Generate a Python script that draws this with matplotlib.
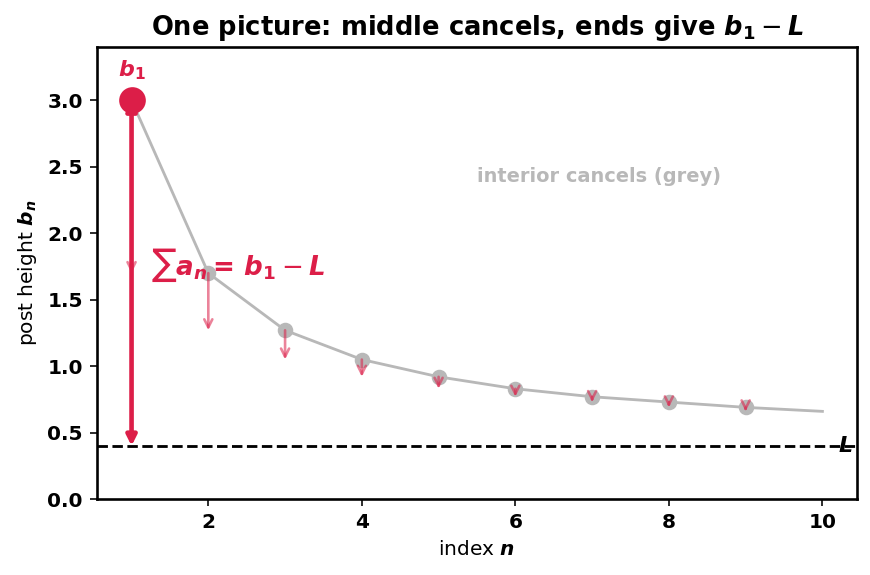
import numpy as np
import matplotlib.pyplot as plt

# post heights b_n and limit L
n_vals = [1, 2, 3, 4, 5, 6, 7, 8, 9, 10]
b_vals = [3.0, 1.7, 1.27, 1.05, 0.92, 0.83, 0.77, 0.73, 0.69, 0.66]
L_val = 0.4

red = '#dc1e48'
grey = '#b8b8b8'

b1 = r'\mathbfit{b}_{\mathbf{1}}'
fig = plt.figure(figsize=(6, 575 / 145), dpi=145)
ax = fig.add_axes([0.1115, 0.132, 0.8735, 0.786])

# grey curve + interior posts
ax.plot(n_vals, b_vals, color=grey, lw=1.4, zorder=2)
ax.scatter(n_vals[1:-1], b_vals[1:-1], s=45, color=grey, zorder=3)

# small drops a_n = b_n - b_{n+1}
for i in range(len(n_vals) - 1):
    ax.annotate('', xy=(n_vals[i], b_vals[i + 1]), xytext=(n_vals[i], b_vals[i]),
                arrowprops=dict(arrowstyle='->', color=red, alpha=0.55, lw=1.3,
                                shrinkA=0, shrinkB=0, mutation_scale=10),
                zorder=4)

# limit line
ax.axhline(L_val, color='black', ls='--', lw=1.4, zorder=1)
ax.text(10.2, L_val, r'$\mathbfit{L}$', fontsize=11, va='center', ha='left')

# total drop b_1 - L
ax.annotate('', xy=(n_vals[0], L_val), xytext=(n_vals[0], b_vals[0]),
            arrowprops=dict(arrowstyle='<|-|>', color=red, lw=2.3,
                            shrinkA=0, shrinkB=0, mutation_scale=10),
            zorder=5)
ax.scatter([n_vals[0]], [b_vals[0]], s=150, color=red, zorder=6)
ax.text(n_vals[0], 3.23, '$' + b1 + '$', color=red, fontsize=11,
        ha='center', va='center')
ax.text(1.25, 1.76, r'$\sum\mathbfit{a}_{\mathbfit{n}}\mathbf{=}\,' + b1 + r' - \mathbfit{L}$',
        color=red, fontsize=13, ha='left', va='center', zorder=7)

ax.text(5.5, 2.43, 'interior cancels (grey)', color=grey, fontsize=9.6,
        fontweight='bold', ha='left', va='center')

ax.set_xlim(0.55, 10.45)
ax.set_ylim(0, 3.4)
ax.set_xticks([2, 4, 6, 8, 10])
ax.set_yticks(np.arange(0, 3.01, 0.5))
for lbl in ax.get_xticklabels() + ax.get_yticklabels():
    lbl.set_fontweight('bold')
ax.tick_params(labelsize=10)
for s in ax.spines.values():
    s.set_linewidth(1.3)

ax.set_xlabel(r'index $\mathbfit{n}$', fontsize=10)
ax.set_ylabel(r'post height $\mathbfit{b}_{\mathbfit{n}}$', fontsize=10)
ax.set_title('One picture: middle cancels, ends give $' + b1 + r' - \mathbfit{L}$',
             fontsize=12.8, fontweight='bold')

fig.savefig('out.png', dpi=145)
